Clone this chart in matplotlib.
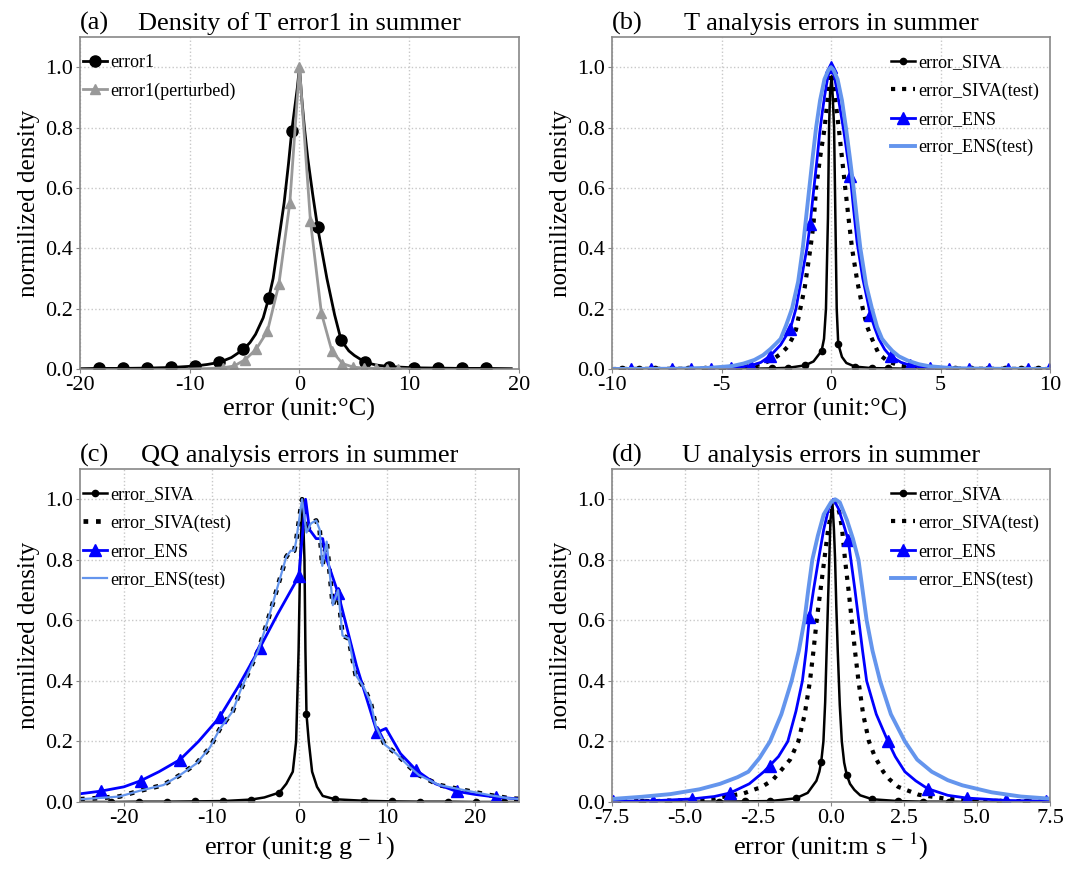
import numpy as np
import matplotlib
matplotlib.use("Agg")
import matplotlib.pyplot as plt

plt.rcParams["font.family"] = ["Liberation Serif", "DejaVu Serif"]
plt.rcParams["mathtext.fontset"] = "stix"
plt.rcParams["axes.unicode_minus"] = False

# ---- (a) density of T error1 ----
a_err1_x = [-20, -18.3, -16.1, -13.9, -11.7, -9.5, -8.4, -7.3, -6.2, -5.1,
            -4.5, -4.0, -3.3, -2.8, -2.4, -2.0, -1.4, -1.0, -0.7, -0.45,
            -0.2, 0.0, 0.2, 0.45, 0.75, 1.2, 1.65, 2.0, 2.5, 3.2,
            3.8, 4.5, 5.0, 6.0, 7.0, 8.2, 9.3, 10.4, 12.6, 14.8,
            17.0, 19.3]
a_err1_y = [0.001, 0.002, 0.002, 0.003, 0.005, 0.010, 0.015, 0.022, 0.038, 0.065,
            0.088, 0.115, 0.17, 0.235, 0.30, 0.40, 0.55, 0.68, 0.79, 0.86,
            0.93, 1.0, 0.90, 0.80, 0.70, 0.58, 0.47, 0.40, 0.30, 0.18,
            0.095, 0.06, 0.045, 0.022, 0.013, 0.008, 0.006, 0.004, 0.003, 0.002,
            0.002, 0.001]
a_err1_marks = [-18.3, -16.1, -13.9, -11.7, -9.5, -7.3, -5.1, -2.8, -0.7,
                1.65, 3.8, 6.0, 8.2, 10.4, 12.6, 14.8, 17.0]

a_pert_x = [-10, -9.0, -8.0, -6.96, -5.96, -4.94, -3.94, -2.92, -1.88, -0.88,
            0.0, 1.0, 2.0, 2.95, 3.92, 4.92, 5.92, 6.96, 8.0, 9.0, 10.0]
a_pert_y = [0.0, 0.001, 0.002, 0.004, 0.010, 0.031, 0.066, 0.125, 0.28, 0.55,
            1.0, 0.49, 0.185, 0.06, 0.018, 0.006, 0.003, 0.002, 0.001, 0.001, 0.0]
a_pert_marks = [-6.96, -5.96, -4.94, -3.94, -2.92, -1.88, -0.88, 0.0, 1.0, 2.0,
                2.95, 3.92, 4.92, 5.92, 6.96, 8.0, 9.0]

# ---- (b) T analysis errors ----
b_siva_x = [-10, -9.55, -8.79, -8.03, -7.27, -6.51, -5.75, -4.99, -4.23, -3.47,
            -2.71, -1.95, -1.19, -0.8, -0.43, -0.32, -0.23, -0.14, -0.09, -0.04,
            0.03, 0.08, 0.14, 0.2, 0.26, 0.33, 0.5, 0.7, 1.09, 1.85,
            2.61, 3.37, 4.13, 4.89, 5.65, 6.41, 7.17, 7.93, 8.69, 9.45, 10]
b_siva_y = [0, 0, 0, 0, 0, 0, 0.001, 0.001, 0.001, 0.001,
            0.002, 0.004, 0.012, 0.025, 0.06, 0.10, 0.20, 0.50, 0.80, 0.92,
            0.97, 0.90, 0.80, 0.50, 0.20, 0.083, 0.04, 0.02, 0.008, 0.003,
            0.002, 0.001, 0.001, 0.001, 0, 0, 0, 0, 0, 0, 0]
b_siva_marks = [-9.55, -8.79, -8.03, -7.27, -6.51, -5.75, -4.99, -4.23, -3.47,
                -2.71, -1.95, -1.19, -0.43, 0.33, 1.09, 1.85, 2.61, 3.37, 4.13,
                4.89, 5.65, 6.41, 7.17, 7.93, 8.69, 9.45]

b_siva_test_x = [-10, -6, -5, -4, -3.2, -2.7, -2.3, -2.0, -1.78, -1.6,
                 -1.4, -1.2, -0.94, -0.8, -0.68, -0.5, -0.29, -0.15, -0.07, 0.0,
                 0.07, 0.15, 0.35, 0.5, 0.65, 0.8, 0.96, 1.2, 1.45, 1.65,
                 1.87, 2.18, 2.6, 3.2, 4, 5, 6, 10]
b_siva_test_y = [0, 0.001, 0.002, 0.006, 0.016, 0.03, 0.05, 0.072, 0.1, 0.13,
                 0.2, 0.27, 0.4, 0.48, 0.6, 0.7, 0.8, 0.9, 0.96, 1.0,
                 0.97, 0.92, 0.8, 0.7, 0.6, 0.5, 0.4, 0.29, 0.2, 0.14,
                 0.1, 0.05, 0.025, 0.01, 0.004, 0.002, 0.001, 0]

b_ens_x = [-10, -9.11, -8.2, -7.28, -6.4, -5.5, -4.57, -3.67, -3.2, -2.77,
           -2.3, -1.86, -1.6, -1.45, -1.3, -1.1, -0.95, -0.84, -0.75, -0.63,
           -0.52, -0.4, -0.28, -0.14, 0.0, 0.15, 0.28, 0.42, 0.58, 0.72,
           0.88, 1.03, 1.19, 1.45, 1.8, 2.0, 2.18, 2.45, 2.72, 3.2,
           3.62, 4.5, 5.4, 6.3, 7.2, 8.1, 9.0, 9.95]
b_ens_y = [0, 0, 0, 0, 0, 0.001, 0.003, 0.011, 0.022, 0.044,
           0.08, 0.133, 0.2, 0.26, 0.32, 0.4, 0.48, 0.56, 0.62, 0.7,
           0.78, 0.85, 0.91, 0.97, 1.0, 0.97, 0.92, 0.86, 0.79, 0.72,
           0.64, 0.53, 0.42, 0.3, 0.18, 0.135, 0.1, 0.065, 0.042, 0.022,
           0.012, 0.003, 0.001, 0, 0, 0, 0, 0]
b_ens_marks = [-9.11, -8.2, -7.28, -6.4, -5.5, -4.57, -3.67, -2.77, -1.86, -0.95,
               0.0, 0.88, 1.8, 2.72, 3.62, 4.5, 5.4, 6.3, 7.2, 8.1, 9.0, 9.95]

b_ens_test_x = [-10, -7, -5.5, -4.5, -4.0, -3.5, -3.1, -2.77, -2.5, -2.3,
                -2.05, -1.78, -1.5, -1.29, -1.14, -0.99, -0.84, -0.68, -0.5, -0.3,
                -0.12, 0.0, 0.12, 0.3, 0.5, 0.68, 0.86, 1.03, 1.18, 1.34,
                1.6, 1.87, 2.1, 2.33, 2.55, 2.8, 3.1, 3.5, 4.0, 4.5,
                5.5, 7, 10]
b_ens_test_y = [0, 0.001, 0.004, 0.01, 0.018, 0.03, 0.046, 0.066, 0.085, 0.1,
                0.145, 0.2, 0.29, 0.4, 0.5, 0.6, 0.7, 0.8, 0.89, 0.96,
                0.99, 1.0, 0.99, 0.96, 0.89, 0.8, 0.7, 0.6, 0.5, 0.4,
                0.28, 0.2, 0.14, 0.1, 0.08, 0.06, 0.042, 0.028, 0.016, 0.009,
                0.003, 0.001, 0]

# ---- (c) QQ analysis errors ----
c_siva_x = [-25, -21.5, -18.3, -15.1, -11.9, -8.7, -5.5, -4.0, -2.3, -1.5,
            -0.76, -0.38, -0.1, 0.08, 0.35, 0.57, 0.68, 0.8, 1.06, 1.44,
            2.0, 2.65, 4.07, 7.3, 10.5, 13.7, 16.9, 20.1, 23.3, 25]
c_siva_y = [0, 0, 0.001, 0.001, 0.002, 0.003, 0.008, 0.015, 0.031, 0.06,
            0.1, 0.2, 0.5, 0.8, 1.0, 0.8, 0.5, 0.29, 0.2, 0.1,
            0.05, 0.02, 0.009, 0.004, 0.002, 0.001, 0.001, 0, 0, 0]
c_siva_marks = [-21.5, -18.3, -15.1, -11.9, -8.7, -5.5, -2.3, 0.8, 4.07, 7.3,
                10.5, 13.7, 16.9, 20.1, 23.3]

# SIVA(test) and ENS(test) lie on top of each other in this panel
c_test_x = [-25, -22.9, -20.5, -18.2, -15.5, -13.6, -11.7, -10.2, -9.1, -7.6,
            -6.7, -4.7, -3.6, -2.7, -2.1, -1.5, -1.0, -0.6, -0.39, 0.0,
            0.3, 0.8, 1.3, 1.9, 2.3, 2.6, 3.1, 3.8, 4.4, 4.9,
            5.6, 6.4, 7.3, 8.1, 8.7, 9.7, 11.0, 12.5, 13.6, 15.9,
            18.6, 21.6, 23.9, 25]
c_test_y = [0.009, 0.013, 0.018, 0.037, 0.056, 0.089, 0.128, 0.18, 0.24, 0.30,
            0.37, 0.5, 0.6, 0.69, 0.75, 0.81, 0.83, 0.83, 0.86, 0.94,
            1.0, 0.89, 0.92, 0.93, 0.9, 0.78, 0.86, 0.65, 0.7, 0.55,
            0.54, 0.42, 0.38, 0.33, 0.25, 0.19, 0.16, 0.117, 0.089, 0.056,
            0.04, 0.023, 0.012, 0.01]

c_ens_x = [-25, -22.6, -20, -18.1, -16, -13.6, -11.5, -9.1, -7, -4.5,
           -2.5, -0.08, 0.7, 1.14, 1.9, 2.65, 3.0, 4.4, 6.5, 8.84,
           9.85, 11.5, 13.3, 15.5, 17.9, 20, 22.4, 25]
c_ens_y = [0.027, 0.036, 0.05, 0.07, 0.1, 0.14, 0.2, 0.28, 0.38, 0.51,
           0.62, 0.745, 1.0, 0.9, 0.87, 0.87, 0.81, 0.69, 0.45, 0.23,
           0.243, 0.16, 0.105, 0.06, 0.035, 0.025, 0.016, 0.01]
c_ens_marks = [-22.6, -18.1, -13.6, -9.1, -4.5, -0.08, 4.4, 8.84, 13.3, 17.9, 22.4]

# ---- (d) U analysis errors ----
d_siva_x = [-7.5, -7.335, -6.46, -5.585, -4.71, -3.835, -2.96, -2.085, -1.21, -0.8,
            -0.5, -0.4, -0.335, -0.26, -0.2, -0.15, -0.1, -0.06, -0.02, 0.05,
            0.1, 0.14, 0.18, 0.23, 0.3, 0.37, 0.45, 0.54, 0.65, 0.8,
            1.0, 1.415, 2.29, 3.165, 4.04, 4.915, 5.79, 6.665, 7.5]
d_siva_y = [0, 0, 0, 0, 0.001, 0.001, 0.002, 0.003, 0.012, 0.03,
            0.07, 0.1, 0.133, 0.2, 0.33, 0.5, 0.67, 0.8, 0.93, 0.985,
            0.9, 0.8, 0.65, 0.5, 0.32, 0.2, 0.13, 0.089, 0.06, 0.04,
            0.022, 0.009, 0.003, 0.001, 0.001, 0, 0, 0, 0]
d_siva_marks = [-7.335, -6.46, -5.585, -4.71, -3.835, -2.96, -2.085, -1.21, -0.335,
                0.54, 1.415, 2.29, 3.165, 4.04, 4.915, 5.79, 6.665]

d_siva_test_x = [-7.5, -6, -5, -4, -3, -2.37, -2.0, -1.75, -1.4, -1.12,
                 -0.9, -0.72, -0.6, -0.49, -0.36, -0.23, -0.1, 0.0, 0.1, 0.19,
                 0.3, 0.38, 0.48, 0.6, 0.71, 0.82, 0.94, 1.1, 1.3, 1.5,
                 1.79, 2.0, 2.3, 3.0, 4, 5, 6, 7.5]
d_siva_test_y = [0.002, 0.003, 0.006, 0.012, 0.028, 0.05, 0.072, 0.1, 0.14, 0.2,
                 0.29, 0.4, 0.5, 0.6, 0.7, 0.8, 0.9, 0.95, 0.99, 0.99,
                 0.95, 0.9, 0.8, 0.7, 0.6, 0.5, 0.4, 0.29, 0.2, 0.15,
                 0.1, 0.075, 0.05, 0.024, 0.01, 0.005, 0.003, 0.002]

d_ens_x = [-7.5, -7.45, -6.1, -4.77, -4.0, -3.45, -2.8, -2.3, -2.1, -1.8,
           -1.48, -1.2, -0.98, -0.85, -0.74, -0.6, -0.43, -0.25, -0.08, 0.08,
           0.25, 0.42, 0.59, 0.68, 0.82, 0.95, 1.08, 1.22, 1.55, 1.95,
           2.2, 2.53, 2.9, 3.31, 4.0, 4.65, 6.0, 7.35, 7.5]
d_ens_y = [0.002, 0.002, 0.004, 0.01, 0.018, 0.03, 0.06, 0.1, 0.12, 0.15,
           0.2, 0.3, 0.4, 0.5, 0.61, 0.7, 0.8, 0.9, 0.97, 1.0,
           0.97, 0.92, 0.865, 0.8, 0.7, 0.6, 0.5, 0.4, 0.29, 0.2,
           0.15, 0.1, 0.07, 0.044, 0.022, 0.013, 0.005, 0.003, 0.003]
d_ens_marks = [-7.45, -6.1, -4.77, -3.45, -2.1, -0.74, 0.59, 1.95, 3.31, 4.65, 6.0, 7.35]

d_ens_test_x = [-7.5, -6.5, -5.5, -4.5, -3.8, -3.2, -2.83, -2.45, -2.09, -1.7,
                -1.35, -1.1, -0.91, -0.78, -0.64, -0.45, -0.25, 0.0, 0.14, 0.3,
                0.55, 0.75, 0.94, 1.08, 1.22, 1.42, 1.68, 2.05, 2.53, 2.95,
                3.45, 4.0, 4.5, 5.5, 6.5, 7.5]
d_ens_test_y = [0.01, 0.017, 0.026, 0.042, 0.06, 0.082, 0.1, 0.145, 0.2, 0.29,
                0.4, 0.5, 0.6, 0.7, 0.8, 0.88, 0.95, 0.99, 1.0, 0.99,
                0.93, 0.87, 0.8, 0.7, 0.6, 0.5, 0.4, 0.29, 0.2, 0.14,
                0.1, 0.072, 0.055, 0.032, 0.018, 0.011]

BLUE = "#0000ff"
LIGHT = "#6495ed"
GREY = "#999999"


def mark_idx(xs, marks):
    return list(np.where(np.isin(np.array(xs), np.array(marks)))[0])


def style(ax, xlim, xticks, xfmt, xlabel, tag, title):
    ax.set_xlim(*xlim)
    ax.set_ylim(0, 1.1)
    ax.set_xticks(xticks)
    ax.set_xticklabels([xfmt.format(t) for t in xticks])
    ax.set_yticks([0, 0.2, 0.4, 0.6, 0.8, 1.0])
    ax.set_yticklabels(["0.0", "0.2", "0.4", "0.6", "0.8", "1.0"])
    ax.tick_params(labelsize=16, length=3, color="#888888", pad=2)
    ax.grid(True, linestyle=":", color="#c8c8c8", lw=1)
    ax.set_axisbelow(True)
    for s in ax.spines.values():
        s.set_color("#888888")
        s.set_linewidth(1.2)
    ax.set_xlabel(xlabel, fontsize=19, labelpad=2)
    ax.set_ylabel("normilized density", fontsize=18, labelpad=4)
    ax.set_title(title, fontsize=19, pad=5)
    ax.set_title(tag, loc="left", fontsize=19, pad=5)


def four_lines(ax, s_x, s_y, s_m, t_x, t_y, e_x, e_y, e_m, et_x, et_y,
               test_lw=2.8, dot_lw=3.0):
    ax.plot(s_x, s_y, color="black", lw=1.8, marker="o", ms=4.5,
            markevery=mark_idx(s_x, s_m), label="error_SIVA")
    ax.plot(t_x, t_y, color="black", lw=dot_lw, ls=":", label="error_SIVA(test)")
    ax.plot(e_x, e_y, color=BLUE, lw=2.0, marker="^", ms=8,
            markevery=mark_idx(e_x, e_m), label="error_ENS")
    ax.plot(et_x, et_y, color=LIGHT, lw=test_lw, label="error_ENS(test)")


fig = plt.figure(figsize=(10.72, 8.74), dpi=100)
ax_a = fig.add_axes([0.0746, 0.5778, 0.4095, 0.3799])
ax_b = fig.add_axes([0.5709, 0.5778, 0.4086, 0.3799])
ax_c = fig.add_axes([0.0746, 0.0824, 0.4095, 0.3810])
ax_d = fig.add_axes([0.5709, 0.0824, 0.4086, 0.3810])

leg_kw = dict(fontsize=13, frameon=False, handlelength=1.3, handletextpad=0.2,
              labelspacing=0.62, borderpad=0, borderaxespad=0)

# (a)
ax_a.plot(a_err1_x, a_err1_y, color="black", lw=2.0, marker="o", ms=8,
          markevery=mark_idx(a_err1_x, a_err1_marks), label="error1")
ax_a.plot(a_pert_x, a_pert_y, color=GREY, lw=2.0, marker="^", ms=7,
          markevery=mark_idx(a_pert_x, a_pert_marks), label="error1(perturbed)")
style(ax_a, (-20, 20), [-20, -10, 0, 10, 20], "{:.0f}", "error (unit:°C)",
      "(a)", "Density of T error1 in summer")
ax_a.legend(loc="upper left", bbox_to_anchor=(0.008, 0.948), **leg_kw)

# (b)
four_lines(ax_b, b_siva_x, b_siva_y, b_siva_marks, b_siva_test_x, b_siva_test_y,
           b_ens_x, b_ens_y, b_ens_marks, b_ens_test_x, b_ens_test_y)
style(ax_b, (-10, 10), [-10, -5, 0, 5, 10], "{:.0f}", "error (unit:°C)",
      "(b)", "T analysis errors in summer")
ax_b.legend(loc="upper right", bbox_to_anchor=(0.975, 0.948), **leg_kw)

# (c)
four_lines(ax_c, c_siva_x, c_siva_y, c_siva_marks, c_test_x, c_test_y,
           c_ens_x, c_ens_y, c_ens_marks, c_test_x, c_test_y,
           test_lw=1.6, dot_lw=3.4)
style(ax_c, (-25, 25), [-20, -10, 0, 10, 20], "{:.0f}",
      r"error (unit:g g$^{\,-\,1}$)", "(c)", "QQ analysis errors in summer")
ax_c.legend(loc="upper left", bbox_to_anchor=(0.008, 0.948), **leg_kw)

# (d)
four_lines(ax_d, d_siva_x, d_siva_y, d_siva_marks, d_siva_test_x, d_siva_test_y,
           d_ens_x, d_ens_y, d_ens_marks, d_ens_test_x, d_ens_test_y)
style(ax_d, (-7.5, 7.5), [-7.5, -5.0, -2.5, 0.0, 2.5, 5.0, 7.5], "{:.1f}",
      r"error (unit:m s$^{\,-\,1}$)", "(d)", "U analysis errors in summer")
ax_d.legend(loc="upper right", bbox_to_anchor=(0.975, 0.948), **leg_kw)

fig.savefig("out.png", dpi=100)
